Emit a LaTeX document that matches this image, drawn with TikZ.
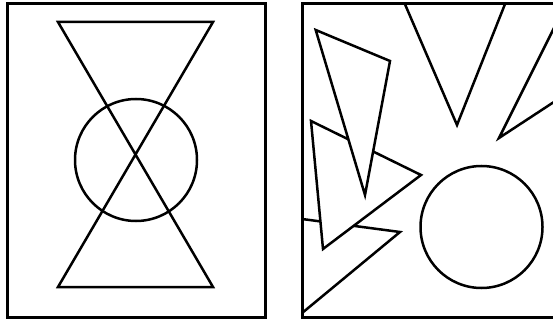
\documentclass[tikz,border=0pt]{standalone}
\usepackage{tikz}

\begin{document}
\begin{tikzpicture}[
    x=1pt, y=-1pt,
    line width=2.5pt,
    frame/.style={line width=3pt},
    cover/.style={draw, fill=white}
]
\useasboundingbox (0,0) rectangle (553,320);
\clip (0,0) rectangle (553,320);

% Left panel
\draw[frame] (7.5,4) rectangle (265,317);
\draw (58,22) -- (213,22) -- (58,287) -- (213,287) -- cycle;  % hourglass
\draw (136,160) circle (61pt);

% Right panel
\begin{scope}
    \clip (302,4) rectangle (560,317);
    \draw (290,217.4) -- (400,232) -- (290,323) -- cycle;  % lower left
    \path[cover] (311,121) -- (421,175) -- (323,249) -- cycle;
    \path[cover] (315.7,30) -- (390,61) -- (365,195) -- cycle;  % tall one
    \draw (401,-5) -- (457,125) -- (508.6,-5);  % top
    \draw (560,16) -- (499,138) -- (560,98);    % right
    \draw (481.5,227) circle (61pt);
\end{scope}
\draw[frame] (302.5,4) rectangle (560,317);

\end{tikzpicture}
\end{document}
